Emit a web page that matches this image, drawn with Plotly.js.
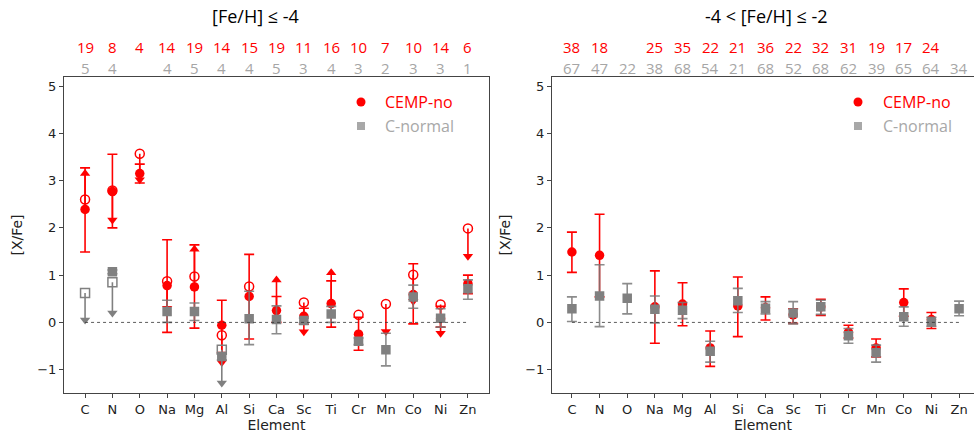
<!DOCTYPE html>
<html><head><meta charset="utf-8">
<script src="https://cdn.plot.ly/plotly-3.0.1.min.js"></script>
<style>html,body{margin:0;padding:0;background:#fff}#plot{width:974px;height:437px}</style>
</head><body><div id="plot"></div>
<script>
const elements = ['C','N','O','Na','Mg','Al','Si','Ca','Sc','Ti','Cr','Mn','Co','Ni','Zn'];

// ---- Panel 1: [Fe/H] <= -4 ----
const p1CempMean  = [2.39, 2.77, 3.15, 0.78, 0.75, -0.06, 0.55, 0.25, 0.13, 0.40, -0.25, null, 0.59, 0.08, 0.82];
const p1CempPlus  = [0.88, 0.79, 0.20, 0.97, 0.89, 0.53, 0.89, 0.30, 0.17, 0.48, 0.36, null, 0.65, 0.26, 0.18];
const p1CempMinus = [0.90, 0.77, 0.20, 0.99, 0.87, 0.58, 0.90, 0.25, 0.17, 0.50, 0.34, null, 0.62, 0.18, 0.21];
const p1CempOpen  = [2.60, 2.79, 3.57, 0.87, 0.97, -0.27, 0.76, null, 0.42, null, 0.16, 0.39, 1.01, 0.38, 1.99];
const p1CempArrowFrom = [2.39, 2.79, 3.57, 0.87, 0.75, -0.27, null, 0.25, 0.42, 0.40, null, 0.39, 1.01, 0.38, 1.99];
const p1CempArrowTo   = [3.15, 2.17, 3.02, 0.30, 1.55, -0.85, null, 0.90, -0.20, 1.05, null, -0.19, 0.45, -0.23, 1.40];
const p1NormMean  = [null, 1.07, null, 0.23, 0.23, -0.72, 0.08, 0.06, 0.04, 0.18, -0.40, -0.58, 0.54, 0.09, 0.71];
const p1NormPlus  = [null, 0.04, null, 0.24, 0.18, 0.07, 0.58, 0.29, 0.05, 0.16, 0.07, 0.35, 0.25, 0.20, 0.19];
const p1NormMinus = [null, 0.04, null, 0.23, 0.19, 0.07, 0.55, 0.30, 0.05, 0.18, 0.07, 0.34, 0.24, 0.19, 0.22];
const p1NormOpen  = [0.62, 0.85, null, null, null, -0.58, null, null, null, null, null, null, null, null, null];
const p1NormArrowFrom = [0.62, 0.85, null, null, null, -0.58, null, null, null, null, null, null, null, null, null];
const p1NormArrowTo   = [0.05, 0.20, null, null, null, -1.28, null, null, null, null, null, null, null, null, null];
const p1CempCount = [19, 8, 4, 14, 19, 14, 15, 19, 11, 16, 10, 7, 10, 14, 6];
const p1NormCount = [5, 4, null, 4, 5, 4, 4, 5, 3, 4, 3, 2, 3, 3, 1];

// ---- Panel 2: -4 < [Fe/H] <= -2 ----
const p2CempMean  = [1.49, 1.42, null, 0.33, 0.39, -0.54, 0.35, 0.31, 0.16, 0.33, -0.21, -0.54, 0.42, 0.06, null];
const p2CempPlus  = [0.42, 0.87, null, 0.76, 0.45, 0.36, 0.61, 0.23, 0.13, 0.16, 0.15, 0.19, 0.29, 0.15, null];
const p2CempMinus = [0.43, 0.88, null, 0.77, 0.46, 0.39, 0.65, 0.26, 0.18, 0.18, 0.12, 0.19, 0.29, 0.19, null];
const p2NormMean  = [0.29, 0.56, 0.51, 0.28, 0.26, -0.61, 0.46, 0.30, 0.20, 0.33, -0.28, -0.64, 0.12, 0.01, 0.29];
const p2NormPlus  = [0.25, 0.66, 0.31, 0.28, 0.16, 0.21, 0.26, 0.14, 0.24, 0.14, 0.15, 0.16, 0.21, 0.10, 0.16];
const p2NormMinus = [0.27, 0.65, 0.33, 0.29, 0.18, 0.23, 0.25, 0.12, 0.23, 0.16, 0.16, 0.20, 0.20, 0.09, 0.15];
const p2CempCount = [38, 18, null, 25, 35, 22, 21, 36, 22, 32, 31, 19, 17, 24, null];
const p2NormCount = [67, 47, 22, 38, 68, 54, 21, 68, 52, 68, 62, 39, 65, 64, 34];

const panelTitles = ['[Fe/H] \u2264 -4', '-4 < [Fe/H] \u2264 -2'];
const seriesNames = ['CEMP-no', 'C-normal'];

const RED = '#ff0000', GRAY = '#808080', GRAYERR = 'rgba(120,120,120,0.85)', LGRAY = '#a8a8a8';
const W = 974, H = 437;
const px = v => v / W, py = v => 1 - v / H;

function arrowTraces(from, to, color, xa, ya) {
  const lx = [], ly = [], tx = [], ty = [], sym = [];
  elements.forEach((e, i) => {
    if (from[i] == null || to[i] == null) return;
    lx.push(i, i, null); ly.push(from[i], to[i], null);
    tx.push(i); ty.push(to[i]); sym.push(to[i] > from[i] ? 'triangle-up' : 'triangle-down');
  });
  return [
    {x: lx, y: ly, mode: 'lines', line: {color: color, width: 1.6}, xaxis: xa, yaxis: ya, hoverinfo: 'skip', showlegend: false},
    {x: tx, y: ty, mode: 'markers', marker: {symbol: sym, size: 9, color: color, line: {width: 0}}, xaxis: xa, yaxis: ya, showlegend: false}
  ];
}
const idx = elements.map((e, i) => i);
function meanTrace(mean, plus, minus, color, errColor, symbol, xa, ya) {
  return {x: idx, y: mean, mode: 'markers', xaxis: xa, yaxis: ya, showlegend: false,
    marker: {symbol: symbol, size: 9.5, color: color, line: {width: 0}},
    error_y: {type: 'data', symmetric: false, array: plus, arrayminus: minus, color: errColor, thickness: 1.6, width: 5}};
}
function openTrace(vals, color, symbol, xa, ya) {
  return {x: idx, y: vals, mode: 'markers', xaxis: xa, yaxis: ya, showlegend: false,
    marker: {symbol: symbol, size: 9, color: color, line: {width: 1.5, color: color}}};
}

const data = [
  ...arrowTraces(p1CempArrowFrom, p1CempArrowTo, RED, 'x', 'y'),
  openTrace(p1CempOpen, RED, 'circle-open', 'x', 'y'),
  meanTrace(p1CempMean, p1CempPlus, p1CempMinus, RED, RED, 'circle', 'x', 'y'),
  ...arrowTraces(p1NormArrowFrom, p1NormArrowTo, GRAY, 'x', 'y'),
  openTrace(p1NormOpen, GRAY, 'square-open', 'x', 'y'),
  meanTrace(p1NormMean, p1NormPlus, p1NormMinus, GRAY, GRAYERR, 'square', 'x', 'y'),
  meanTrace(p2CempMean, p2CempPlus, p2CempMinus, RED, RED, 'circle', 'x2', 'y2'),
  meanTrace(p2NormMean, p2NormPlus, p2NormMinus, GRAY, GRAYERR, 'square', 'x2', 'y2')
];

const tickFont = {family: 'DejaVu Sans', size: 13, color: '#222'};
const labFont = {family: 'DejaVu Sans', size: 14, color: '#222'};
const calFont = (size, color) => ({family: 'Open Sans', size: size, color: color});

function xAxis(dom, range, anchor) {
  return {domain: dom, range: range, type: 'linear', anchor: anchor, showgrid: false, zeroline: false,
    tickmode: 'array', tickvals: idx, ticktext: elements,
    showline: true, linecolor: '#444', linewidth: 1, mirror: true, ticks: 'outside', ticklen: 4, tickcolor: '#444',
    tickfont: tickFont, title: {text: 'Element', font: labFont, standoff: 2}};
}
function yAxis(anchor) {
  return {domain: [py(393.3), py(76.7)], range: [-1.5, 5.2], anchor: anchor, showgrid: false, zeroline: false,
    showline: true, linecolor: '#444', linewidth: 1, mirror: true, ticks: 'outside', ticklen: 4, tickcolor: '#444',
    tickvals: [-1, 0, 1, 2, 3, 4, 5], tickfont: tickFont, title: {text: '[X/Fe]', font: labFont, standoff: 11}};
}

const annotations = [];
function countRow(counts, color, yPix, xref) {
  elements.forEach((e, i) => {
    if (counts[i] == null) return;
    annotations.push({x: i, y: py(yPix), xref: xref, yref: 'paper', text: String(counts[i]), showarrow: false,
      xanchor: 'center', yanchor: 'middle', font: calFont(15, color)});
  });
}
countRow(p1CempCount, RED, 47, 'x');
countRow(p1NormCount, '#a6a6a6', 68, 'x');
countRow(p2CempCount, RED, 47, 'x2');
countRow(p2NormCount, '#a6a6a6', 68, 'x2');
annotations.push({x: px(255), y: py(16), xref: 'paper', yref: 'paper', text: panelTitles[0], showarrow: false, xanchor: 'center', yanchor: 'middle', font: calFont(18, '#000')});
annotations.push({x: px(766), y: py(16), xref: 'paper', yref: 'paper', text: panelTitles[1], showarrow: false, xanchor: 'center', yanchor: 'middle', font: calFont(18, '#000')});

const shapes = [];
[['x', 'y'], ['x2', 'y2']].forEach(([xr, yr]) => {
  shapes.push({type: 'line', xref: xr, yref: yr, x0: 0, x1: elements.length - 1, y0: 0, y1: 0, line: {color: '#333', width: 0.8, dash: 'dot'}});
});
[[361, 383], [858, 881]].forEach(([mx, tx]) => {
  shapes.push({type: 'circle', xref: 'paper', yref: 'paper', x0: px(mx - 4.5), x1: px(mx + 4.5), y0: py(102 + 4.5), y1: py(102 - 4.5), fillcolor: RED, line: {width: 0}});
  shapes.push({type: 'rect', xref: 'paper', yref: 'paper', x0: px(mx - 4), x1: px(mx + 4), y0: py(126 + 4), y1: py(126 - 4), fillcolor: LGRAY, line: {width: 0}});
  annotations.push({x: px(tx), y: py(102), xref: 'paper', yref: 'paper', text: seriesNames[0], showarrow: false, xanchor: 'left', yanchor: 'middle', font: calFont(16, RED)});
  annotations.push({x: px(tx), y: py(126), xref: 'paper', yref: 'paper', text: seriesNames[1], showarrow: false, xanchor: 'left', yanchor: 'middle', font: calFont(16, LGRAY)});
});

const layout = {
  width: W, height: H, margin: {l: 0, r: 0, t: 0, b: 0}, paper_bgcolor: '#fff', plot_bgcolor: '#fff',
  showlegend: false,
  xaxis: xAxis([px(64), px(489)], [-0.77, 14.77], 'y'),
  yaxis: yAxis('x'),
  xaxis2: xAxis([px(552), 1], [-0.72, 14.54], 'y2'),
  yaxis2: yAxis('x2'),
  annotations: annotations, shapes: shapes
};
Plotly.newPlot('plot', data, layout, {displayModeBar: false, staticPlot: true});
</script></body></html>
